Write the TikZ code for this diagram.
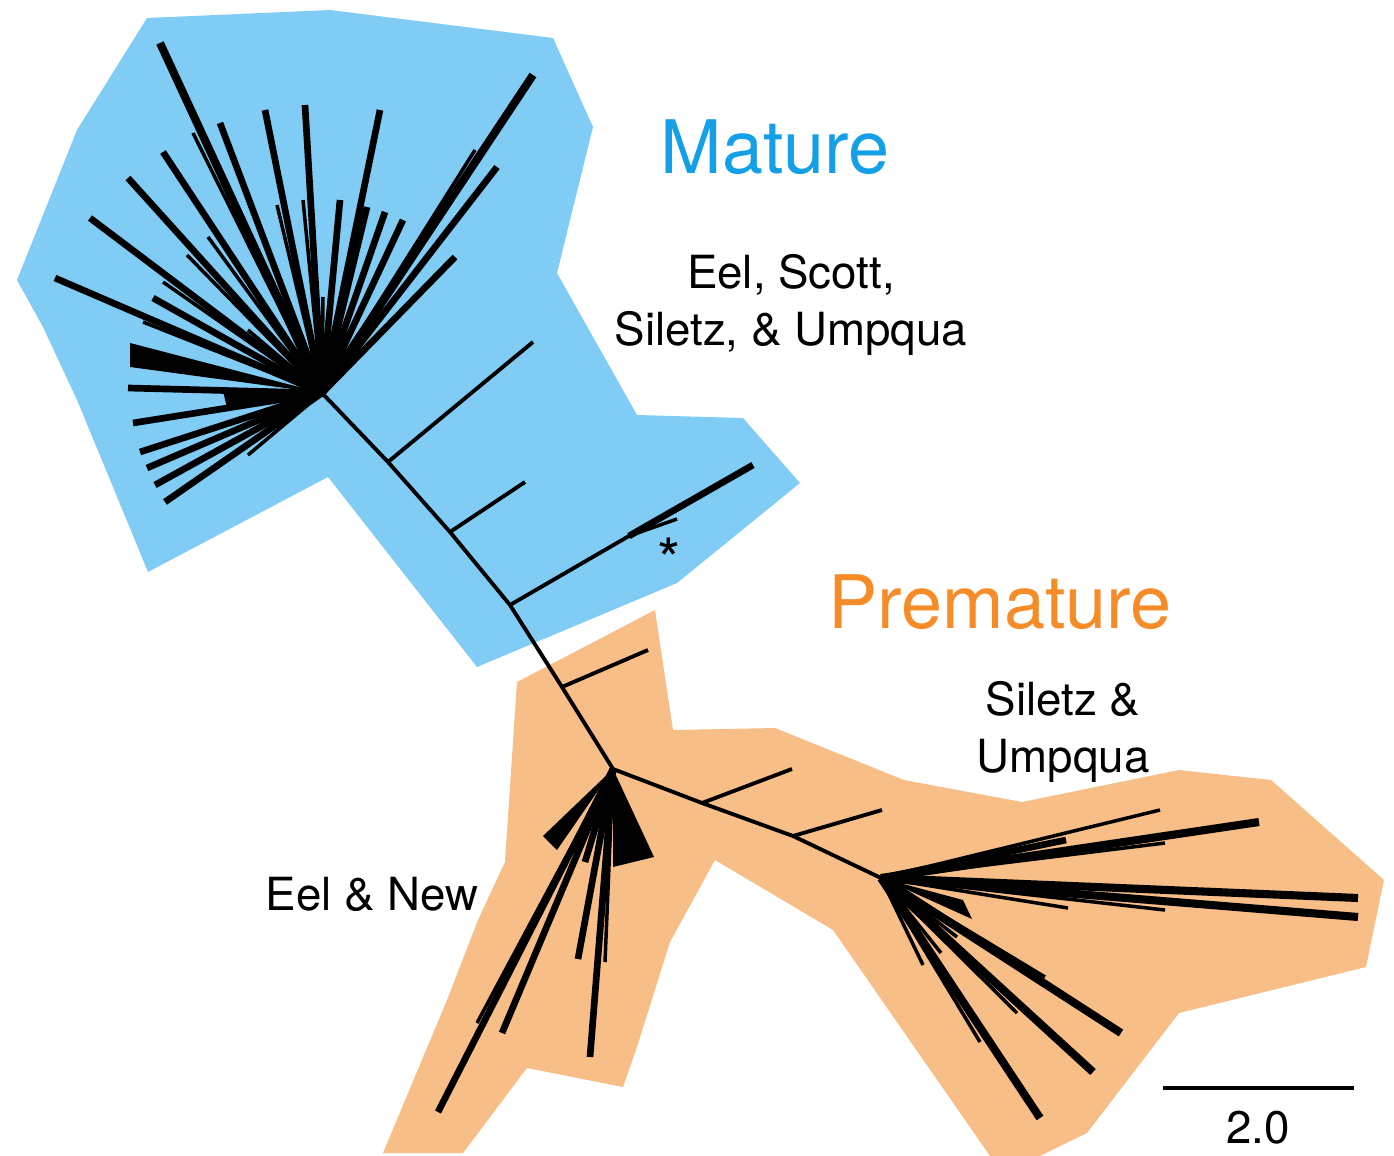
\documentclass[tikz,border=0pt]{standalone}
\usepackage{fontspec}
\setmainfont{TeX Gyre Heros}
\usepackage{xcolor}
\usetikzlibrary{positioning}

\definecolor{maturefill}{RGB}{128,204,245}
\definecolor{prematurefill}{RGB}{248,190,135}
\definecolor{maturetext}{RGB}{20,160,230}
\definecolor{prematuretext}{RGB}{245,140,40}

\begin{document}
\begin{tikzpicture}[
    x=0.02cm, y=-0.02cm,
    stem/.style={line width=2.2pt},
    leaf/.style={line width=3.8pt},
    twig/.style={line width=2pt},
    heavy/.style={line width=4.6pt},
    title/.style={inner sep=0pt, anchor=base, font=\fontsize{42}{50}\selectfont},
    place/.style={inner sep=0pt, align=center, font=\fontsize{26}{32}\selectfont}
]
\useasboundingbox (0,0) rectangle (1394,1156);

% shaded groups
\fill[maturefill] (147,18) -- (330,10) -- (553,38) -- (593,127) -- (557,273) -- (637,415)
  -- (743,418) -- (800,483) -- (677,583) -- (477,667) -- (328,477) -- (148,572)
  -- (113,487) -- (77,400) -- (43,327) -- (17,280) -- (77,130) -- cycle;
\fill[prematurefill] (505,862) -- (517,682) -- (655,610) -- (673,730) -- (775,728)
  -- (904,780) -- (1022,802) -- (1179,770) -- (1271,780) -- (1384,880) -- (1366,967)
  -- (1179,1013) -- (1087,1133) -- (1040,1156) -- (990,1156) -- (833,930) -- (715,860)
  -- (670,942) -- (637,1047) -- (623,1087) -- (527,1068) -- (463,1153) -- (383,1153)
  -- (447,1000) -- (478,920) -- cycle;

% inner nodes of the tree
\coordinate (hubM) at (322,393);
\coordinate (nA) at (388,462);
\coordinate (nB) at (450,532);
\coordinate (nC) at (510,605);
\coordinate (nG) at (629,536);
\coordinate (nD) at (562,687);
\coordinate (hubE) at (613,769);
\coordinate (nE) at (702,803);
\coordinate (nF) at (793,836);
\coordinate (hubS) at (881,878);

\coordinate (tA) at (533,342);
\coordinate (tB) at (525,482);
\coordinate (tC) at (753,465);
\coordinate (tG) at (677,519);
\coordinate (tD) at (648,650);
\coordinate (tE) at (792,769);
\coordinate (tF) at (882,810);

\draw[stem] (hubM) -- (nA) -- (nB) -- (nC) -- (nD) -- (hubE) -- (nE) -- (nF) -- (hubS);
\draw[stem] (nA) -- (tA);
\draw[stem] (nB) -- (tB);
\draw[stem] (nC) -- (nG);
\draw[leaf] (nG) -- (tC);
\draw[twig] (nG) -- (tG);
\draw[stem] (nD) -- (tD);
\draw[stem] (nE) -- (tE);
\draw[stem] (nF) -- (tF);

% mature fan
\foreach \x/\y [count=\i] in {220/123, 265/110, 305/105, 380/110, 497/167, 455/257,
    163/152, 128/178, 90/218, 340/200, 367/207, 385/212, 403/220, 55/278, 153/298,
    128/388, 133/423, 140/452, 147/468, 155/485, 165/502} {
  \coordinate (m\i) at (\x,\y);
  \draw[leaf] (hubM) -- (m\i);
}
\foreach \x/\y [count=\i] in {160/43, 533/75} {
  \coordinate (mh\i) at (\x,\y);
  \draw[heavy] (hubM) -- (mh\i);
}
\foreach \x/\y [count=\i] in {193/133, 475/150, 208/237, 187/255, 277/205, 303/200,
    163/282, 143/322, 248/455, 248/330, 323/297} {
  \coordinate (mt\i) at (\x,\y);
  \draw[twig] (hubM) -- (mt\i);
}
\fill (hubM) -- (130,343) -- (130,367) -- cycle;
\fill (hubM) -- (223,391) -- (227,408) -- cycle;

% eel and new fan
\foreach \x/\y [count=\i] in {438/1112, 502/1033, 578/959, 590/1057, 585/862} {
  \coordinate (e\i) at (\x,\y);
  \draw[leaf] (hubE) -- (e\i);
}
\foreach \x/\y [count=\i] in {477/1023, 605/962} {
  \coordinate (et\i) at (\x,\y);
  \draw[twig] (hubE) -- (et\i);
}
\fill (hubE) -- (543,836) -- (557,850) -- cycle;
\fill (hubE) -- (613,867) -- (654,857) -- cycle;

% siletz and umpqua fan
\foreach \x/\y [count=\i] in {1259/822, 1358/898, 1358/917, 1121/1033, 1093/1072, 1040/1118} {
  \coordinate (s\i) at (\x,\y);
  \draw[heavy] (hubS) -- (s\i);
}
\foreach \x/\y [count=\i] in {1160/810, 1165/843, 1068/908, 1165/910, 957/937, 1045/977,
    1017/1013, 980/1042, 941/953, 923/965} {
  \coordinate (st\i) at (\x,\y);
  \draw[twig] (hubS) -- (st\i);
}
\coordinate (s7) at (1066,840);
\draw[leaf] (hubS) -- (s7);
\fill (hubS) -- (963,900) -- (972,919) -- cycle;

% labels
\node[title, text=maturetext] (mature) at (775,173) {Mature};
\node[place] (matureriv) at (791,305) {Eel, Scott,\\Siletz, \& Umpqua};
\node[title, text=prematuretext] (premature) at (1000,628) {Premature};
\node[place] (prematureriv) at (1063,732) {Siletz \&\\Umpqua};
\node[place, anchor=base] (eelnew) at (372,910) {Eel \& New};
\node[place, anchor=base, font=\fontsize{34}{34}\selectfont] (star) at (669,581) {*};

% scale bar
\coordinate (barL) at (1163,1088);
\coordinate (barR) at (1354,1088);
\draw[stem] (barL) -- (barR);
\node[place, anchor=base] (barlabel) at (1258,1143) {2.0};

\end{tikzpicture}
\end{document}
